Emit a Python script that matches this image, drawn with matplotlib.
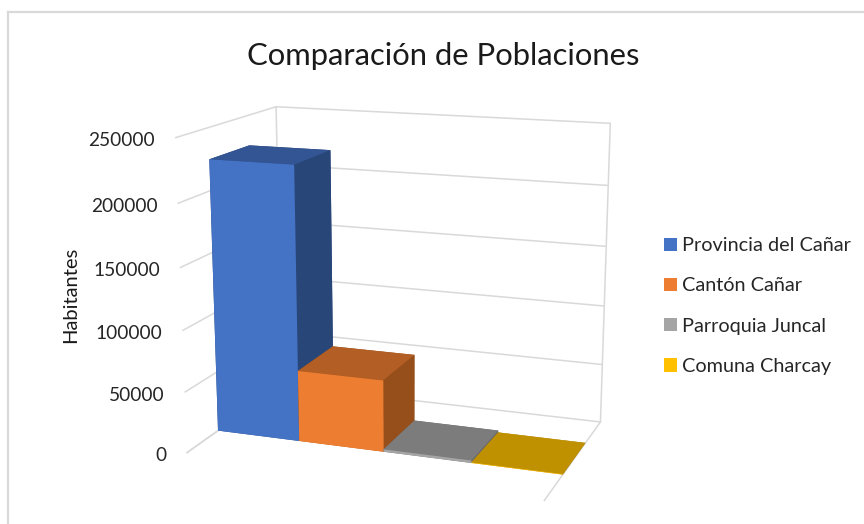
import numpy as np
import matplotlib.pyplot as plt
from matplotlib.lines import Line2D
from matplotlib.patches import Patch
from mpl_toolkits.mplot3d import proj3d

plt.rcParams['font.family'] = ['Lato', 'DejaVu Sans']
plt.rcParams['grid.color'] = '#d9d9d9'
plt.rcParams['grid.linewidth'] = 1.1

series = ['Provincia del Cañar', 'Cantón Cañar', 'Parroquia Juncal', 'Comuna Charcay']
poblacion = [225000, 59000, 2000, 400]
z_ticks = [0, 50000, 100000, 150000, 200000, 250000]

color_frente = ['#4472c4', '#ed7d31', '#a5a5a5', '#ffc000']
color_arriba = ['#335593', '#b25e25', '#7c7c7c', '#bf9000']
color_lado = ['#294679', '#964f1a', '#696969', '#a37a00']

fig = plt.figure(figsize=(8.64, 5.24), dpi=100)
ax = fig.add_axes([0.1525, -0.0591, 0.6028, 0.9939], projection='3d')
ax.patch.set_visible(False)
ax.computed_zorder = False

ax.view_init(elev=14.405, azim=-69.95, roll=0.07)
ax.set_proj_type('persp', focal_length=0.5485)
ax.set_box_aspect((1.1607, 0.728, 1.0))
ax.set_xlim3d(0, 4, view_margin=0)
ax.set_ylim3d(0, 1, view_margin=0)
ax.set_zlim3d(0, 250000, view_margin=0)

# paredes limpias, solo quedan las lineas de la grilla en z
ax.set_xticks([])
ax.set_yticks([])
ax.set_zticks(z_ticks)
ax.zaxis.set_tick_params(labelleft=False, labelright=False, color='none')
ax.zaxis.set_major_formatter(plt.NullFormatter())
for eje in (ax.xaxis, ax.yaxis, ax.zaxis):
    eje.pane.set_facecolor('none')
    eje.pane.set_edgecolor('none')
    eje.line.set_color('none')

# esquinas de las paredes y bordes del piso
ax.plot([0, 0], [1, 1], [0, 250000], color='#d9d9d9', lw=1.1, zorder=0)
ax.plot([4, 4], [1, 1], [0, 250000], color='#d9d9d9', lw=1.1, zorder=0)
ax.plot([0, 0], [0, 1], [0, 0], color='#d9d9d9', lw=1.1, zorder=0)
ax.plot([4, 4], [0, 1], [0, 0], color='#d9d9d9', lw=1.1, zorder=0)

for i in range(len(series)):
    caras = [color_arriba[i], color_arriba[i], color_frente[i],
             color_lado[i], color_lado[i], color_lado[i]]
    ax.bar3d(i, 0.3, 0, 1, 0.4, poblacion[i], color=caras, shade=False,
             linewidth=0, zorder=i + 1)

# etiquetas del eje z, ancladas al extremo de cada linea de grilla
M = ax.get_proj()
for t in z_ticks:
    xp, yp, _ = proj3d.proj_transform(0, 0, t, M)
    ax.annotate(str(t), (xp, yp), xytext=(-20, -3), textcoords='offset pixels',
                ha='right', va='center', fontsize=13.8, color='#262626',
                annotation_clip=False)

fig.text(443 / 864, 1 - 55.5 / 524, 'Comparación de Poblaciones', ha='center', va='center',
         fontsize=22.3, color='#1a1a1a')
fig.text(71 / 864, 1 - 294.5 / 524, 'Habitantes', rotation=90, ha='center', va='center',
         fontsize=14.5, color='#1a1a1a')

handles = [Patch(facecolor=c) for c in color_frente]
fig.legend(handles, series, loc='center left', bbox_to_anchor=(664 / 864, 1 - 306 / 524),
           frameon=False, fontsize=14.3, handlelength=0.65, handleheight=0.65,
           handletextpad=0.25, labelspacing=1.17, labelcolor='#262626',
           borderpad=0, borderaxespad=0)

# borde del grafico, recortado arriba y a la izquierda
fig.add_artist(Line2D([8 / 864, 8 / 864], [0, 1 - 12 / 524], color='#d9d9d9', lw=1.6))
fig.add_artist(Line2D([8 / 864, 1], [1 - 12 / 524, 1 - 12 / 524], color='#d9d9d9', lw=1.6))

fig.savefig('out.png', dpi=100)
